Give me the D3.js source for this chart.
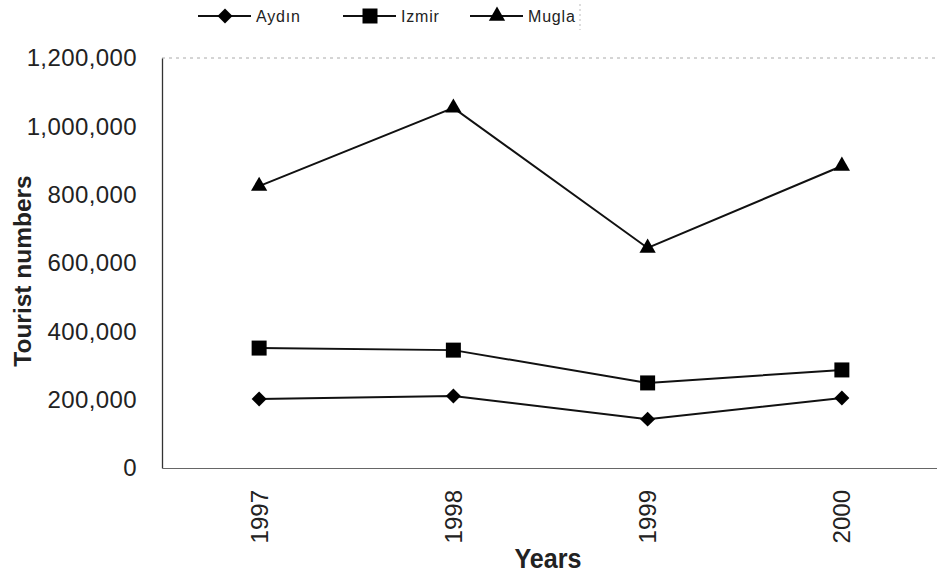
<!DOCTYPE html>
<html>
<head>
<meta charset="utf-8" />
<title>Tourist numbers</title>
<script src="https://cdn.jsdelivr.net/npm/d3@7/dist/d3.min.js"></script>
<style>
	body { margin: 0; background: #fff; }
	svg text { font-family: "Liberation Sans", Arial, sans-serif; fill: #222; }
</style>
</head>
<body>
<svg id="chart"></svg>
<script>
var years = ["1997", "1998", "1999", "2000"];
var aydin = [202000, 211000, 143000, 205000];
var izmir = [351000, 345000, 249000, 287000];
var mugla = [825000, 1054000, 644000, 884000];
var yTicks = [0, 200000, 400000, 600000, 800000, 1000000, 1200000];

// diamond = square turned 45 degrees (d3's own diamond is too narrow)
var series = [
	{ name: "Aydın", values: aydin, shape: d3.symbolSquare, size: 112, rot: 45 },
	{ name: "Izmir", values: izmir, shape: d3.symbolSquare, size: 225, rot: 0 },
	{ name: "Mugla", values: mugla, shape: d3.symbolTriangle, size: 115, rot: 0 }
];

var width = 937, height = 573;
var margin = { top: 58, right: -2, bottom: 105, left: 162 };

var svg = d3.select("#chart").attr("width", width).attr("height", height);
var g = svg.append("g").attr("transform", "translate(" + margin.left + "," + margin.top + ")");

var w = width - margin.left - margin.right,
    h = height - margin.top - margin.bottom;

var x = d3.scaleBand().domain(years).range([0, w]);
var y = d3.scaleLinear().domain([0, 1200000]).range([h, 0]);

// faint top edge of plot area
g.append("line")
	.attr("x1", 0).attr("x2", w).attr("y1", 0).attr("y2", 0)
	.attr("stroke", "#aaa").attr("stroke-width", 1).attr("stroke-dasharray", "3,4");

// y axis
var yAxis = g.append("g")
	.call(d3.axisLeft(y).tickValues(yTicks).tickSize(0).tickPadding(25).tickFormat(d3.format(",")));
yAxis.select(".domain").attr("stroke", "#333").attr("stroke-width", 1.3);
yAxis.selectAll("text")
	.style("font-size", "24px")
	.style("letter-spacing", "0.4px")
	.attr("fill", "#222");

// x axis
var xAxis = g.append("g")
	.attr("transform", "translate(0," + h + ")")
	.call(d3.axisBottom(x).tickSize(0));
xAxis.select(".domain").attr("stroke", "#666").attr("stroke-width", 1.2);
xAxis.selectAll("text")
	.style("font-size", "24px")
	.attr("fill", "#222")
	.attr("transform", "rotate(-90)")
	.attr("text-anchor", "end")
	.attr("x", -22)
	.attr("y", 0)
	.attr("dy", "0.35em");

// axis titles
svg.append("text")
	.attr("transform", "translate(31," + (margin.top + h / 2 + 8) + ") rotate(-90)")
	.attr("text-anchor", "middle")
	.style("font-size", "24.5px").style("font-weight", "bold")
	.text("Tourist numbers");
svg.append("text")
	.attr("transform", "translate(548,568) scale(0.93,1)")
	.attr("text-anchor", "middle")
	.style("font-size", "27px").style("font-weight", "bold")
	.text("Years");

var line = d3.line()
	.x(function(d, i) { return x(years[i]) + x.bandwidth() / 2; })
	.y(function(d) { return y(d); });

series.forEach(function(s) {
	g.append("path")
		.datum(s.values)
		.attr("d", line)
		.attr("fill", "none")
		.attr("stroke", "#111")
		.attr("stroke-width", 2);
	g.selectAll(null)
		.data(s.values)
		.enter().append("path")
		.attr("d", d3.symbol().type(s.shape).size(s.size))
		.attr("transform", function(d, i) {
			return "translate(" + (x(years[i]) + x.bandwidth() / 2) + "," + y(d) + ") rotate(" + s.rot + ")";
		})
		.attr("fill", "#000");
});

// legend
var legend = svg.append("g").attr("transform", "translate(198,16)");
var legendX = [0, 145, 272];
series.forEach(function(s, i) {
	var lg = legend.append("g").attr("transform", "translate(" + legendX[i] + ",0)");
	lg.append("line").attr("x1", 0).attr("x2", 53).attr("y1", 0).attr("y2", 0)
		.attr("stroke", "#111").attr("stroke-width", 2);
	lg.append("path")
		.attr("d", d3.symbol().type(s.shape).size(s.size))
		.attr("transform", "translate(27,0) rotate(" + s.rot + ")")
		.attr("fill", "#000");
	lg.append("text").attr("x", 58).attr("y", 0).attr("dy", "0.35em")
		.style("font-size", "16px").style("letter-spacing", "0.8px").text(s.name);
});
svg.append("line").attr("x1", 580).attr("x2", 580).attr("y1", 4).attr("y2", 30)
	.attr("stroke", "#bbb").attr("stroke-dasharray", "2,3");
</script>
</body>
</html>
